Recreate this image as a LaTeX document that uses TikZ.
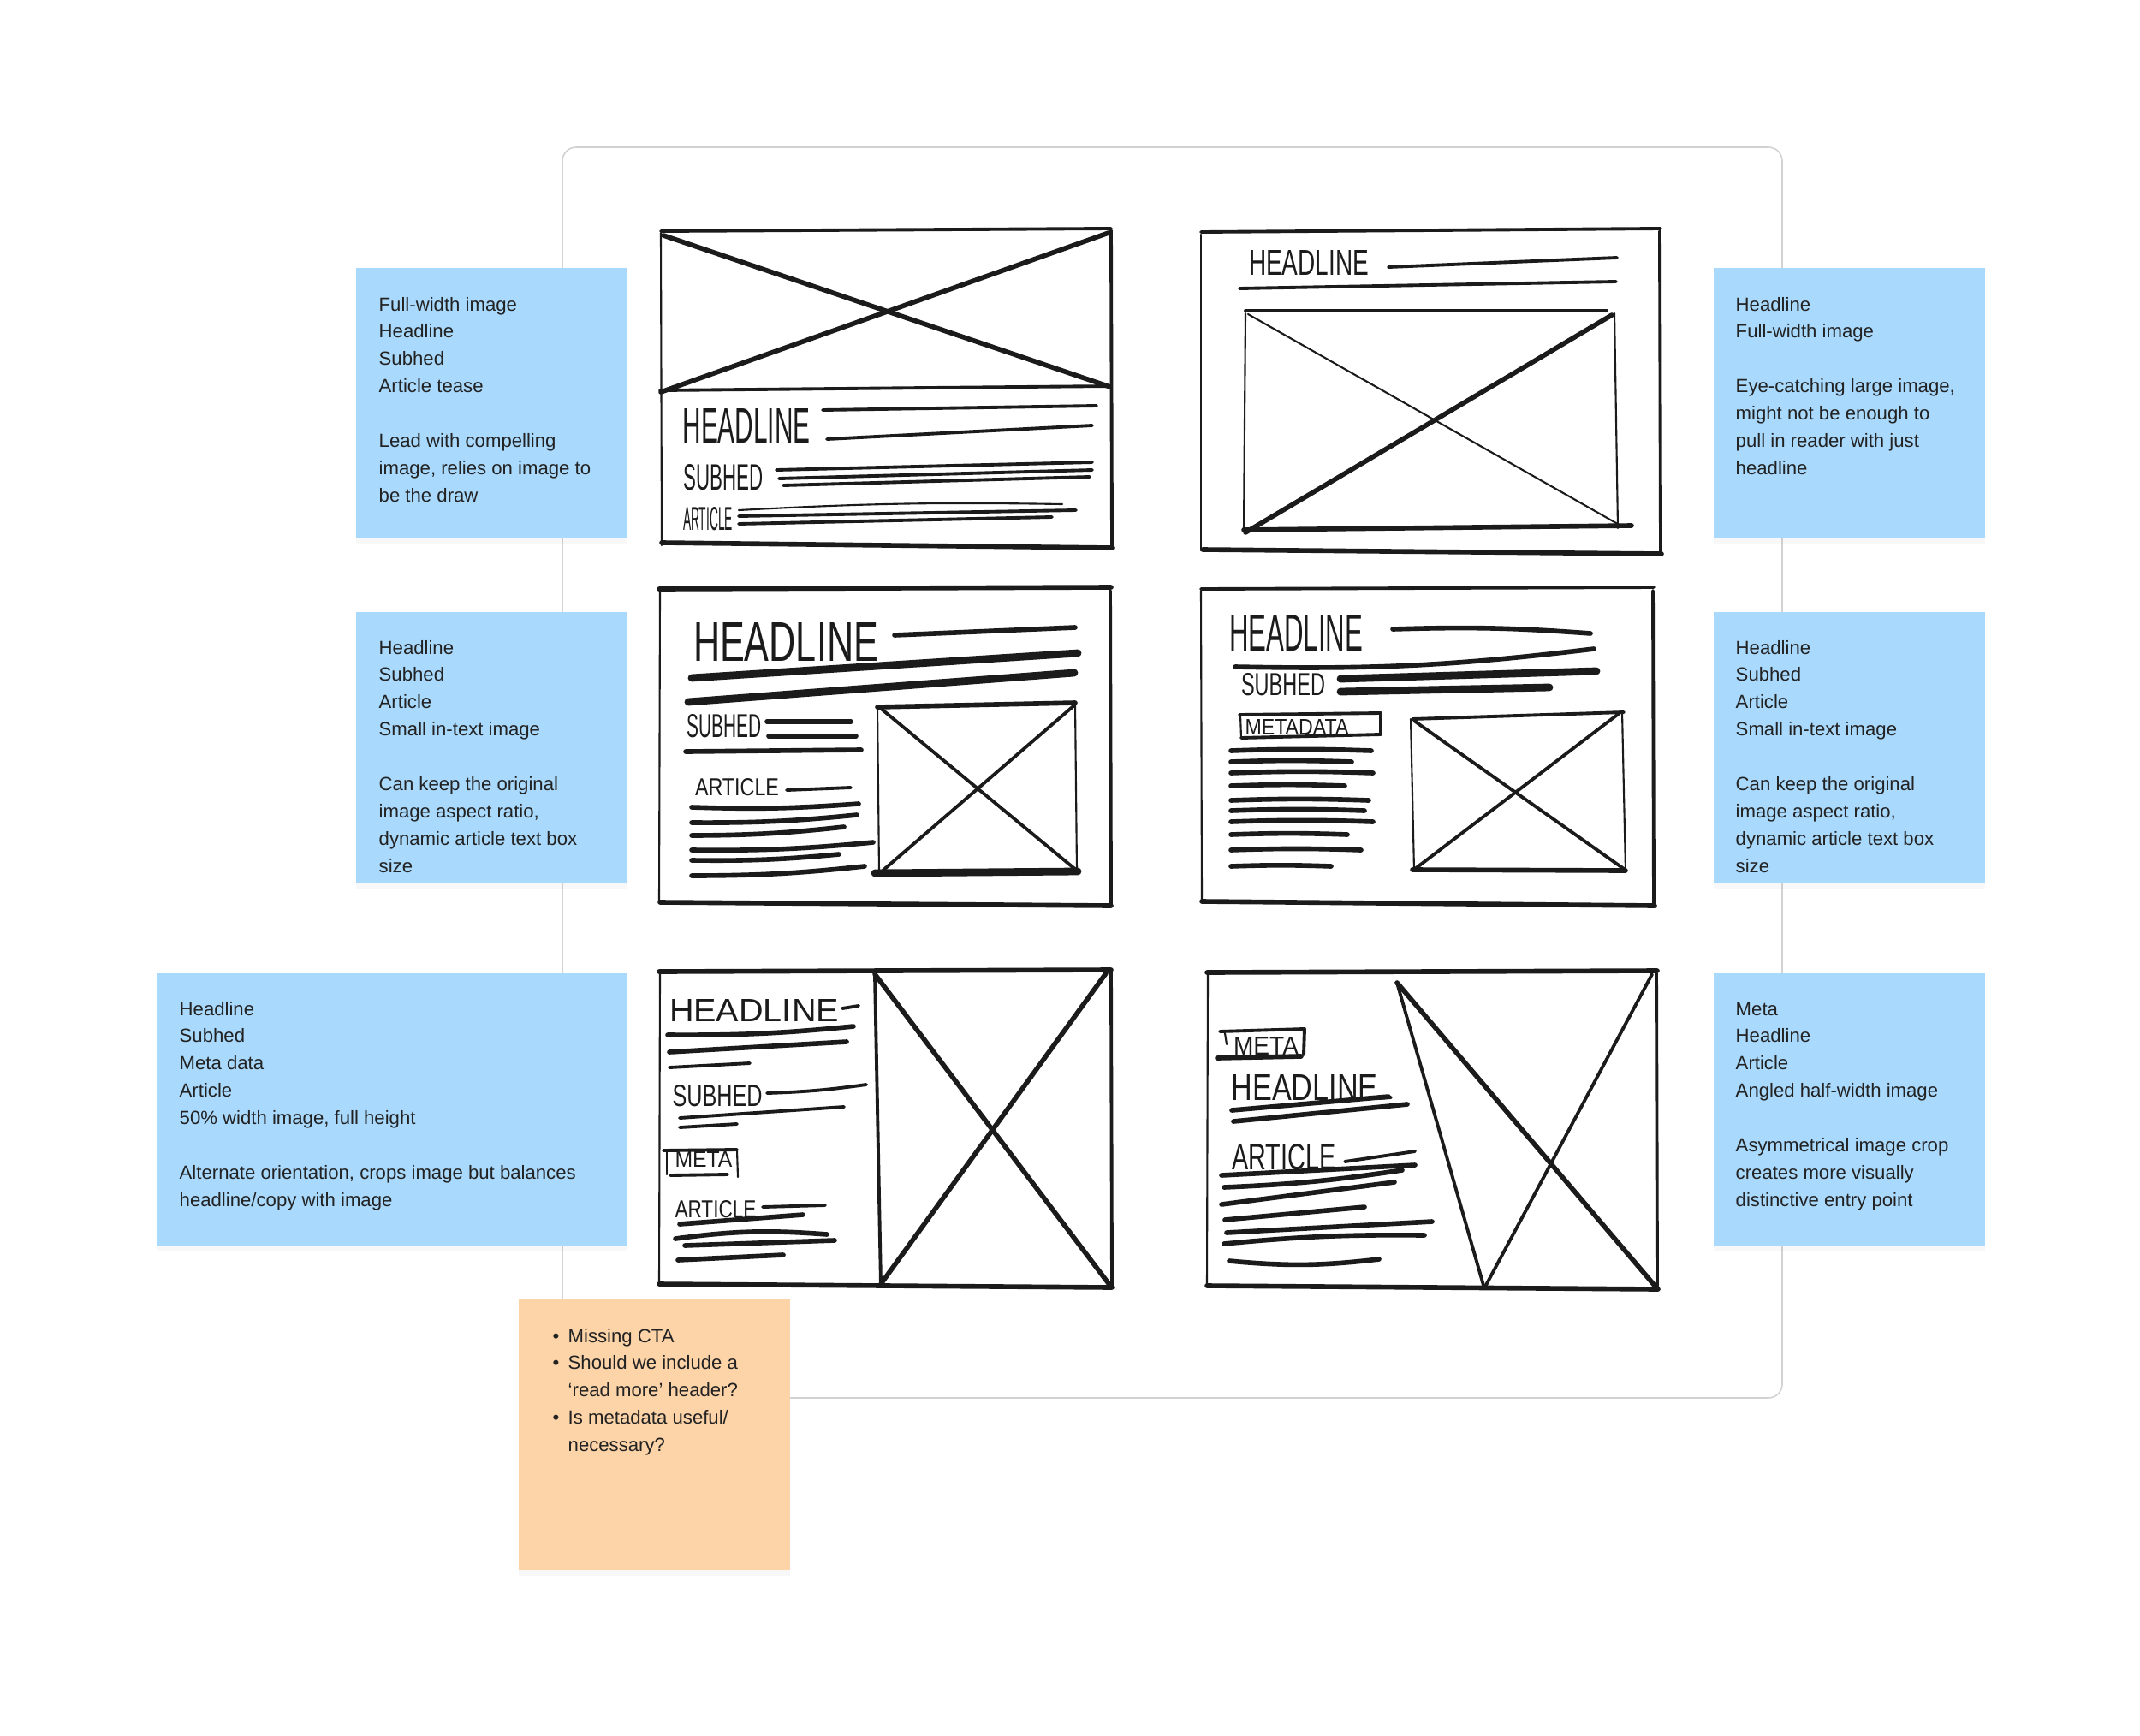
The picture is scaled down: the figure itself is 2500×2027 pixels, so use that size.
\documentclass[tikz,border=0pt]{standalone}
\usepackage{fontspec}
\setmainfont{Liberation Sans}
\usepackage{graphicx}
\usetikzlibrary{positioning, shadows}

\definecolor{stickyblue}{HTML}{A9D9FD}
\definecolor{stickypeach}{HTML}{FDD3A8}
\definecolor{ink}{HTML}{1B1B1B}
\definecolor{boardline}{HTML}{D2D2D2}
\definecolor{notegray}{HTML}{222222}

\newdimen\pxunit \pxunit=0.01cm
\newcommand{\notefont}{\fontsize{6.3}{9.07}\selectfont}
% squeeze a scrawled word into the box it was written in (width, height in px)
\newcommand{\scrawl}[3]{\resizebox{#1\pxunit}{#2\pxunit}{#3}}

\tikzset{
board/.style={draw=boardline, line width=0.45pt, rounded corners=0.16cm}, % the grey frame behind the sketches
sketch/.style={draw=ink, line width=0.6pt, line cap=round, line join=round}, % thin felt-tip stroke
sketch mid/.style={sketch, line width=1.1pt},
sketch bold/.style={sketch, line width=1.6pt},
sketch fat/.style={sketch, line width=2.5pt}, % marker strokes
handword/.style={inner sep=0pt, text=ink},
sticky/.style={anchor=north west, inner sep=0pt, minimum width=3.17cm, minimum height=3.16cm, fill=stickyblue,
  drop shadow={opacity=0.05, shadow xshift=0pt, shadow yshift=-2pt}},
notetext/.style={anchor=base west, inner sep=0pt, font=\notefont, text=notegray},
}

\begin{document}
\begin{tikzpicture}[x=0.01cm, y=-0.01cm]
\useasboundingbox (0,0) rectangle (2500,2027);
\fill[white] (0,0) rectangle (2500,2027);

\draw[board] (657,172) rectangle (2082,1633);

% sketch 1: full-width image on top
\draw[sketch mid] (772,270) -- (1298,267);
\draw[sketch] (772,272) -- (773,637);
\draw[sketch mid] (1298,269) -- (1299,639);
\draw[sketch bold] (773,634) -- (1299,640);
\draw[sketch mid] (771,456) -- (1298,451);
\draw[sketch bold] (775,275) -- (1297,452);
\draw[sketch bold] (1295,272) -- (772,458);
\node[handword] (hl1) at (872,497) {\scrawl{149}{40}{HEADLINE}};
\draw[sketch mid] (961,479) -- (1281,474);
\draw[sketch mid] (966,513) -- (1276,497);
\node[handword] (sh1) at (845,558) {\scrawl{93}{30}{SUBHED}};
\draw[sketch mid] (907,549) -- (1276,540);
\draw[sketch mid] (910,559) -- (1276,549);
\draw[sketch mid] (915,567) -- (1273,557);
\node[handword] (ar1) at (827,606) {\scrawl{58}{27}{ARTICLE}};
\draw[sketch] (863,596) to[bend left=2] (1241,589);
\draw[sketch mid] (863,603) -- (1257,596);
\draw[sketch mid] (863,612) -- (1229,604);

% sketch 2: headline over a big image
\draw[sketch mid] (1403,271) -- (1940,267);
\draw[sketch] (1403,274) -- (1403,643);
\draw[sketch mid] (1939,270) -- (1940,646);
\draw[sketch bold] (1405,642) -- (1941,647);
\node[handword] (hl2) at (1529,307) {\scrawl{140}{29}{HEADLINE}};
\draw[sketch mid] (1622,312) -- (1889,301);
\draw[sketch mid] (1448,337) -- (1888,329);
\draw[sketch mid] (1455,363) -- (1877,363);
\draw[sketch] (1455,366) -- (1453,620);
\draw[sketch] (1886,366) -- (1890,617);
\draw[sketch bold] (1453,619) -- (1906,614);
\draw[sketch] (1458,367) -- (1895,615);
\draw[sketch bold] (1883,368) -- (1455,622);

% sketch 3: small image beside the article
\draw[sketch bold] (770,688) -- (1298,686);
\draw[sketch] (771,690) -- (770,1054);
\draw[sketch mid] (1297,690) -- (1298,1057);
\draw[sketch bold] (771,1054) -- (1298,1058);
\node[handword] (hl3) at (918,750) {\scrawl{216}{45}{HEADLINE}};
\draw[sketch bold] (1045,742) -- (1256,733);
\draw[sketch fat] (808,792) -- (1259,763);
\draw[sketch fat] (804,820) -- (1255,786);
\node[handword] (sh3) at (846,848) {\scrawl{87}{27}{SUBHED}};
\draw[sketch bold] (896,843) -- (994,843);
\draw[sketch bold] (898,860) -- (1000,860);
\draw[sketch bold] (801,878) -- (1006,876);
\node[handword] (ar3) at (861,920) {\scrawl{98}{20}{ARTICLE}};
\draw[sketch mid] (919,923) -- (994,920);
\foreach \ya/\xb/\yb in {943/1003/939, 961/1001/952, 976/986/966, 993/1020/984, 1005/980/998, 1023/1010/1012}
  \draw[sketch bold] (808,\ya) to[bend right=3] (\xb,\yb);
\draw[sketch bold] (1025,826) -- (1256,821);
\draw[sketch] (1025,826) -- (1027,1020);
\draw[sketch] (1256,823) -- (1258,1018);
\draw[sketch fat] (1022,1020) -- (1259,1018);
\draw[sketch mid] (1027,826) -- (1258,1017);
\draw[sketch mid] (1255,824) -- (1030,1018);

% sketch 4: same again with meta data
\draw[sketch mid] (1403,688) -- (1932,686);
\draw[sketch] (1403,690) -- (1404,1053);
\draw[sketch mid] (1931,690) -- (1932,1058);
\draw[sketch bold] (1404,1053) -- (1933,1058);
\node[handword] (hl4) at (1514,739) {\scrawl{156}{42}{HEADLINE}};
\draw[sketch bold] (1627,735) to[bend left=3] (1858,740);
\draw[sketch bold] (1443,779) to[bend right=4] (1862,758);
\node[handword] (sh4) at (1499,800) {\scrawl{98}{26}{SUBHED}};
\draw[sketch fat] (1566,793) -- (1865,784);
\draw[sketch fat] (1566,808) -- (1810,803);
\node[handword] (md4) at (1515,849) {\scrawl{121}{18}{METADATA}};
\draw[sketch mid] (1448,835) -- (1613,833) -- (1613,858);
\draw[sketch] (1449,835) -- (1450,862);
\draw[sketch mid] (1450,862) -- (1613,858);
\foreach \y/\xb in {877/1602, 890/1579, 903/1604, 918/1571, 935/1599, 947/1594, 960/1604, 975/1574, 993/1590, 1012/1555}
  \draw[sketch bold] (1438,\y) to[bend left=2] (\xb,\y);
\draw[sketch mid] (1650,840) -- (1897,832);
\draw[sketch] (1648,840) -- (1652,1017);
\draw[sketch] (1895,832) -- (1899,1018);
\draw[sketch bold] (1650,1016) -- (1899,1017);
\draw[sketch mid] (1652,842) -- (1897,1015);
\draw[sketch mid] (1892,833) -- (1653,1015);

% sketch 5: half-width image, full height
\draw[sketch bold] (770,1135) -- (1298,1133);
\draw[sketch] (771,1137) -- (770,1500);
\draw[sketch mid] (1298,1136) -- (1299,1503);
\draw[sketch bold] (770,1500) -- (1299,1504);
\draw[sketch mid] (1022,1138) -- (1029,1501);
\draw[sketch bold] (1022,1138) -- (1297,1502);
\draw[sketch bold] (1292,1137) -- (1029,1500);
\node[handword] (hl5) at (881,1180) {\scrawl{198}{26}{HEADLINE}};
\draw[sketch mid] (984,1178) -- (1003,1175);
\draw[sketch bold] (780,1209) to[bend right=3] (997,1199);
\draw[sketch bold] (782,1229) -- (989,1217);
\draw[sketch mid] (782,1247) -- (876,1242);
\node[handword] (sh5) at (838,1280) {\scrawl{105}{25}{SUBHED}};
\draw[sketch mid] (896,1277) to[bend right=3] (1012,1267);
\draw[sketch mid] (794,1306) -- (986,1293);
\draw[sketch mid] (794,1317) -- (861,1313);
\node[handword] (mt5) at (822,1354) {\scrawl{67}{18}{META}};
\draw[sketch mid] (775,1344) -- (861,1343);
\draw[sketch] (779,1346) -- (779,1372);
\draw[sketch mid] (783,1373) -- (850,1372);
\draw[sketch] (861,1344) -- (862,1375);
\node[handword] (ar5) at (836,1413) {\scrawl{95}{20}{ARTICLE}};
\draw[sketch mid] (891,1410) -- (964,1408);
\draw[sketch bold] (794,1430) -- (938,1419);
\draw[sketch bold] (789,1447) to[bend left=6] (966,1442);
\draw[sketch bold] (800,1455) -- (975,1449);
\draw[sketch bold] (792,1472) -- (915,1466);

% sketch 6: angled half-width image
\draw[sketch bold] (1410,1136) -- (1936,1134);
\draw[sketch] (1411,1138) -- (1410,1502);
\draw[sketch mid] (1935,1137) -- (1936,1504);
\draw[sketch bold] (1410,1502) -- (1937,1506);
\draw[sketch mid] (1632,1148) -- (1734,1505);
\draw[sketch bold] (1632,1148) -- (1934,1503);
\draw[sketch mid] (1930,1138) -- (1734,1505);
\node[handword] (mt6) at (1479,1222) {\scrawl{76}{21}{META}};
\draw[sketch mid] (1425,1205) -- (1524,1202) -- (1523,1232);
\draw[sketch] (1431,1207) -- (1433,1220);
\draw[sketch bold] (1422,1236) -- (1520,1234);
\node[handword] (hl6) at (1524,1270) {\scrawl{171}{30}{HEADLINE}};
\draw[sketch mid] (1612,1283) -- (1625,1282);
\draw[sketch bold] (1439,1297) -- (1622,1281);
\draw[sketch bold] (1441,1310) -- (1644,1290);
\node[handword] (ar6) at (1500,1352) {\scrawl{121}{30}{ARTICLE}};
\draw[sketch mid] (1571,1357) -- (1653,1345);
\draw[sketch bold] (1427,1373) -- (1653,1361);
\draw[sketch bold] (1430,1387) to[bend right=3] (1638,1367);
\draw[sketch bold] (1427,1407) -- (1629,1381);
\draw[sketch bold] (1431,1425) -- (1594,1410);
\draw[sketch bold] (1433,1440) -- (1673,1427);
\draw[sketch bold] (1430,1453) to[bend left=3] (1664,1443);
\draw[sketch bold] (1436,1473) to[bend right=6] (1611,1471);

% notes on the left
\node[sticky] (noteA) at (415,312) {};
\node[notetext] (noteAtext) at ([shift={(27,51)}]noteA.north west) {\parbox[t]{2.8cm}{Full-width image\\Headline\\Subhed\\Article tease\\[0.32cm]Lead with compelling\\image, relies on image to\\be the draw}};
\node[sticky] (noteB) at (415,714) {};
\node[notetext] (noteBtext) at ([shift={(27,50)}]noteB.north west) {\parbox[t]{2.8cm}{Headline\\Subhed\\Article\\Small in-text image\\[0.32cm]Can keep the original\\image aspect ratio,\\dynamic article text box\\size}};
\node[sticky, minimum width=5.5cm, minimum height=3.18cm] (noteC) at (182,1136) {};
\node[notetext] (noteCtext) at ([shift={(27,50)}]noteC.north west) {\parbox[t]{5cm}{Headline\\Subhed\\Meta data\\Article\\50\% width image, full height\\[0.32cm]Alternate orientation, crops image but balances\\headline/copy with image}};

% notes on the right
\node[sticky] (noteD) at (2001,312) {};
\node[notetext] (noteDtext) at ([shift={(26,51)}]noteD.north west) {\parbox[t]{2.8cm}{Headline\\Full-width image\\[0.32cm]Eye-catching large image,\\might not be enough to\\pull in reader with just\\headline}};
\node[sticky] (noteE) at (2001,714) {};
\node[notetext] (noteEtext) at ([shift={(26,50)}]noteE.north west) {\parbox[t]{2.8cm}{Headline\\Subhed\\Article\\Small in-text image\\[0.32cm]Can keep the original\\image aspect ratio,\\dynamic article text box\\size}};
\node[sticky, minimum height=3.18cm] (noteF) at (2001,1136) {};
\node[notetext] (noteFtext) at ([shift={(26,50)}]noteF.north west) {\parbox[t]{2.8cm}{Meta\\Headline\\Article\\Angled half-width image\\[0.32cm]Asymmetrical image crop\\creates more visually\\distinctive entry point}};

% open questions
\node[sticky, fill=stickypeach] (todo) at (605,1517) {};
\node[notetext] (todotext) at ([shift={(40,51)}]todo.north west) {\parbox[t]{2.6cm}{\makebox[18\pxunit][l]{\textbullet}Missing CTA\\\makebox[18\pxunit][l]{\textbullet}Should we include a\\\hspace*{18\pxunit}‘read more’ header?\\\makebox[18\pxunit][l]{\textbullet}Is metadata useful/\\\hspace*{18\pxunit}necessary?}};

\end{tikzpicture}
\end{document}
